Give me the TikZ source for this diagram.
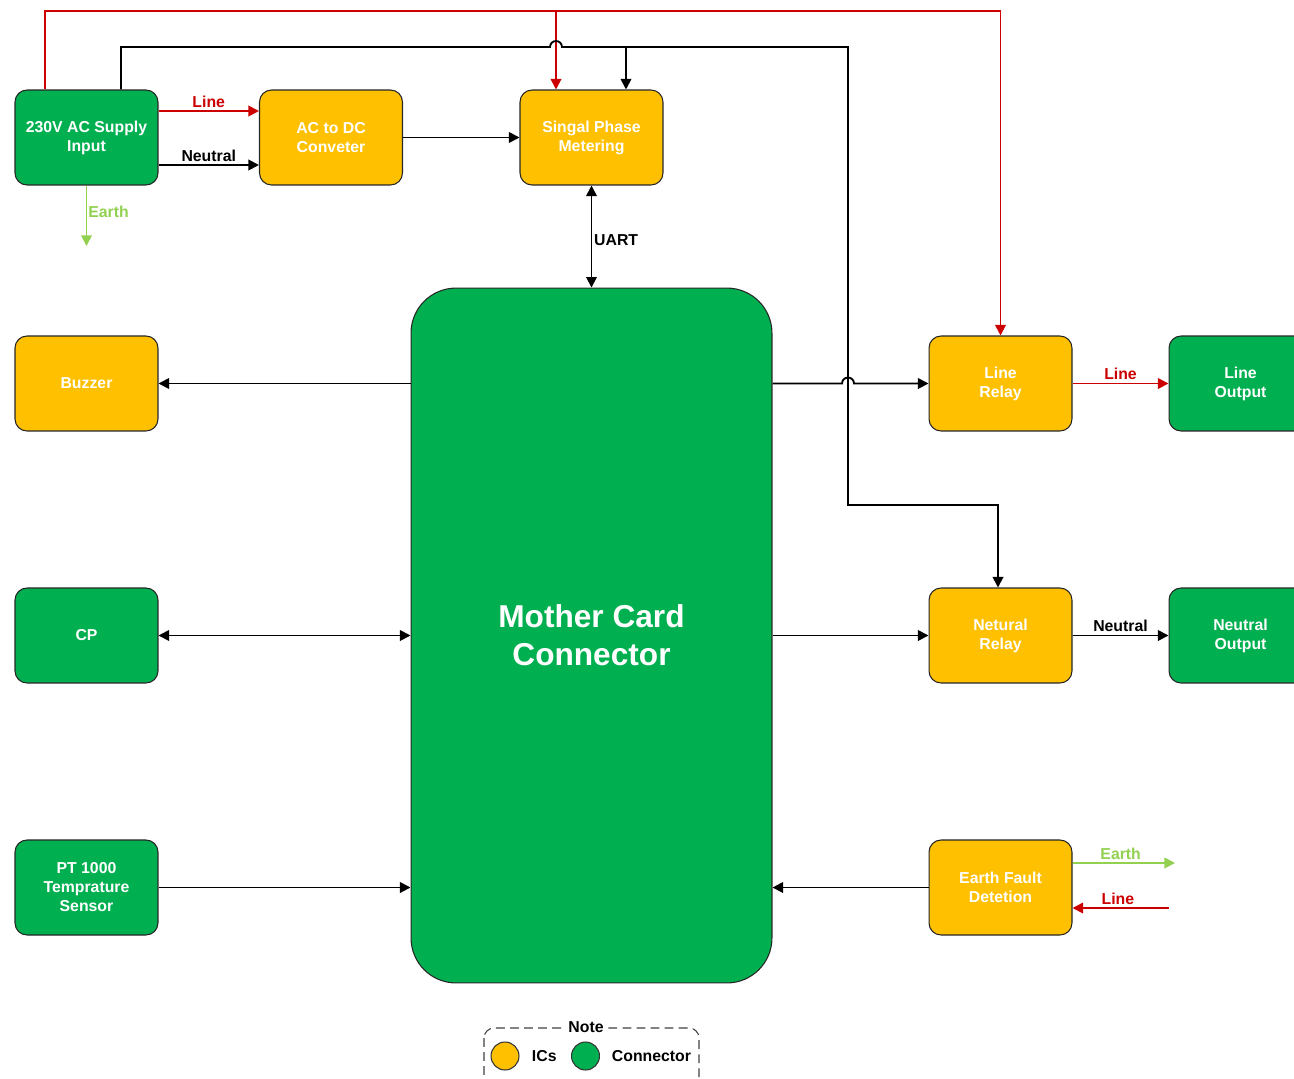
\documentclass[tikz,border=0pt]{standalone}
\usepackage{fontspec}
\setmainfont{Liberation Sans}
\usetikzlibrary{arrows.meta}
\definecolor{cgreen}{HTML}{00B050}
\definecolor{corange}{HTML}{FFC000}
\definecolor{cred}{HTML}{CC0000}
\definecolor{cearth}{HTML}{92D050}
\begin{document}
\begin{tikzpicture}[x=0.02cm,y=-0.02cm,
  box/.style={draw=black!85, line width=0.6pt, rounded corners=0.24cm,
    minimum width=2.86cm, minimum height=1.9cm, text=white, align=center,
    inner sep=0pt, font=\bfseries\fontsize{9}{10.8}\selectfont},
  ic/.style={box, fill=corange},
  con/.style={box, fill=cgreen},
  wire/.style={line width=1.05pt, -{Triangle[length=6pt,width=6pt]}},
  dwire/.style={line width=1.05pt, {Triangle[length=6pt,width=6pt]}-{Triangle[length=6pt,width=6pt]}},
  lbl/.style={font=\bfseries\fontsize{9}{10.8}\selectfont, inner sep=1.5pt}
]
\useasboundingbox (0,0) rectangle (1294,1078);

% nodes
\node[con] (ac) at (86.5,137.5) {230V AC Supply\\Input};
\node[ic] (acdc) at (331,137.5) {AC to DC\\Conveter};
\node[ic] (spm) at (591.5,137.5) {Singal Phase\\Metering};
\node[ic] (bz) at (86.5,383.5) {Buzzer};
\node[con] (cp) at (86.5,635.5) {CP};
\node[con] (pt) at (86.5,887.5) {PT 1000\\Temprature\\Sensor};
\node[draw=black!85, line width=0.6pt, fill=cgreen, rounded corners=0.9cm,
  minimum width=7.22cm, minimum height=13.9cm, text=white, align=center,
  font=\bfseries\fontsize{18}{21.5}\selectfont] (mc) at (591.5,635.5) {Mother Card\\Connector};
\node[ic] (lr) at (1000.5,383.5) {Line\\Relay};
\node[con] (lo) at (1240.5,383.5) {Line\\Output};
\node[ic] (nr) at (1000.5,635.5) {Netural\\Relay};
\node[con] (no) at (1240.5,635.5) {Neutral\\Output};
\node[ic] (ef) at (1000.5,887.5) {Earth Fault\\Detetion};

% helper coordinates
\coordinate (yR) at (0,11);
\coordinate (bk1) at (121,47);
\coordinate (bk2) at (848,47);
\coordinate (bk3) at (848,505);
\coordinate (bk4) at (998,505);
\coordinate (hop1) at (550,47);
\coordinate (brk) at (626,47);
\coordinate (eg) at (86.5,246);
\coordinate (efE) at (1175,863);
\coordinate (efL) at (1169,908);

% red line feed
\draw[wire, cred] ([xshift=-0.83cm]ac.north) |- (lr.north |- yR) -- (lr.north);
\draw[wire, cred] ([xshift=-0.71cm]spm.north |- yR) -- ([xshift=-0.71cm]spm.north);

% black neutral feed with hops
\draw[wire] ([xshift=0.69cm]ac.north) -- (bk1) -- (hop1) arc(180:360:6) -- (bk2) -- (bk3) -- (bk4) -- (nr.north -| bk4);
\draw[wire] (brk) -- (spm.north -| brk);

% top-left connections
\draw[wire, cred] ([yshift=0.53cm]ac.east) -- ([yshift=0.53cm]acdc.west)
  node[midway, above, lbl, text=cred] {Line};
\draw[wire] ([yshift=-0.55cm]ac.east) -- ([yshift=-0.55cm]acdc.west)
  node[midway, above, lbl] {Neutral};
\draw[wire, cearth] (ac.south) -- (eg) node[pos=0.43, right, lbl, inner sep=0.5pt, text=cearth] {Earth};
\draw[wire] (acdc.east) -- (spm.west);
\draw[dwire] (spm.south) -- (mc.north) node[midway, right, lbl, inner sep=1pt, yshift=-2pt] {UART};

% mother card connections
\draw[wire] (mc.west |- bz.east) -- (bz.east);
\draw[dwire] (cp.east) -- (mc.west |- cp.east);
\draw[wire] (pt.east) -- (mc.west |- pt.east);
\draw[wire] (mc.east |- lr.west) -- ([xshift=-0.12cm]bk3 |- lr.west) arc(180:360:6) -- (lr.west);
\draw[wire] (mc.east |- nr.west) -- (nr.west);
\draw[wire] (ef.west) -- (mc.east |- ef.west);

% outputs
\draw[wire, cred] (lr.east) -- (lo.west) node[midway, above, lbl, text=cred] {Line};
\draw[wire] (nr.east) -- (no.west) node[midway, above, lbl] {Neutral};
\draw[wire, cearth] (ef.east |- efE) -- (efE) node[pos=0.47, above, lbl, text=cearth] {Earth};
\draw[wire, cred] (efL) -- (ef.east |- efL) node[pos=0.53, above, lbl, text=cred] {Line};

% legend
\draw[dashed, dash pattern=on 5pt off 3pt, rounded corners=0.2cm, line width=0.6pt, black!75]
  (484,1028) rectangle (699,1095);
\node[fill=white, lbl, inner sep=2pt] (note) at (586,1027) {Note};
\node[circle, draw=black!80, line width=0.6pt, fill=corange, minimum size=0.56cm, inner sep=0pt] (lic) at (505,1056) {};
\node[lbl, right] (lict) at (529,1056) {ICs};
\node[circle, draw=black!80, line width=0.6pt, fill=cgreen, minimum size=0.56cm, inner sep=0pt] (lcn) at (585.5,1056) {};
\node[lbl, right] (lcnt) at (609,1056) {Connector};
\end{tikzpicture}
\end{document}
